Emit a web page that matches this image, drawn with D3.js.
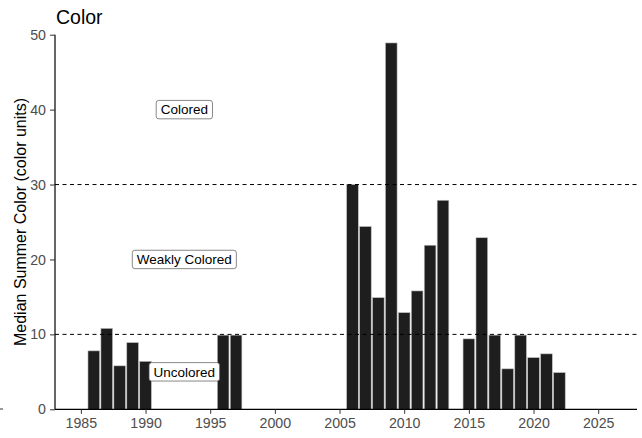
<!DOCTYPE html>
<html><head><meta charset="utf-8">
<script src="https://cdn.jsdelivr.net/npm/d3@7"></script>
<style>body{margin:0;background:#fff}svg{display:block}text{font-family:"Liberation Sans",Arial,sans-serif}</style>
</head><body><svg id="c" width="642" height="438"></svg>
<script>
const years = [1986,1987,1988,1989,1990,1996,1997,2006,2007,2008,2009,2010,2011,2012,2013,2015,2016,2017,2018,2019,2020,2021,2022];
const colorValues = [7.8,10.8,5.8,8.9,6.4,9.9,9.9,30,24.4,14.9,48.9,12.9,15.8,21.9,27.9,9.4,22.9,9.9,5.4,9.9,6.9,7.4,4.9];
const xTicks = [1985,1990,1995,2000,2005,2010,2015,2020,2025];
const yTicks = [0,10,20,30,40,50];
const thresholds = [10,30];
const labelNames = ["Colored","Weakly Colored","Uncolored"];
const labelYears = [1993,1993,1993];
const labelValues = [40,20,5];

const svg = d3.select("#c");
const x = d3.scaleLinear().domain([1983,2028]).range([55,637]);
const y = d3.scaleLinear().domain([0,50]).range([409.3,34.7]);
const bw = (x(1)-x(0))*0.9;

svg.append("g").selectAll("rect").data(years).join("rect")
  .attr("x",(d)=>x(d)-bw/2).attr("width",bw)
  .attr("y",(d,i)=>y(colorValues[i])).attr("height",(d,i)=>y(0)-y(colorValues[i]))
  .attr("fill","#1e1e1e").attr("stroke","#bfbfbf").attr("stroke-width",0.6);

svg.append("g").selectAll("line").data(thresholds).join("line")
  .attr("x1",55).attr("x2",637).attr("y1",d=>y(d)).attr("y2",d=>y(d))
  .attr("stroke","#000").attr("stroke-width",1).attr("stroke-dasharray","4,3.5");

const xa = svg.append("g").attr("transform",`translate(0,${y(0)})`)
  .call(d3.axisBottom(x).tickValues(xTicks).tickFormat(d3.format("d")).tickSize(4.5).tickPadding(4.5));
xa.attr("font-size",null);
xa.select(".domain").attr("d",`M55,0H637`).attr("stroke","#000").attr("stroke-width",1.2);
xa.selectAll(".tick line").attr("stroke","#333");
xa.selectAll("text").attr("fill","#4d4d4d").style("font-size","14.2px");

const ya = svg.append("g").attr("transform",`translate(55,0)`)
  .call(d3.axisLeft(y).tickValues(yTicks).tickSize(5).tickPadding(4));
ya.attr("font-size",null);
ya.select(".domain").attr("d",`M0,${y(50)}V${y(0)}`).attr("stroke","#000").attr("stroke-width",1.2);
ya.selectAll(".tick line").attr("stroke","#333");
ya.selectAll("text").attr("fill","#4d4d4d").style("font-size","14.2px");

// labels
const lg = svg.append("g");
labelNames.forEach((t,i)=>{
  const g = lg.append("g").attr("transform",`translate(${x(labelYears[i])},${y(labelValues[i])})`);
  const tx = g.append("text").attr("text-anchor","middle").attr("dy","0.35em").style("font-size","13.5px").attr("fill","#000").text(t);
  const b = tx.node().getBBox();
  g.insert("rect","text").attr("x",b.x-4.5).attr("y",-9.2).attr("width",b.width+9).attr("height",18.4)
    .attr("rx",2.5).attr("fill","#fff").attr("stroke","#555").attr("stroke-width",0.7);
});

svg.append("text").attr("x",56).attr("y",24).style("font-size","19.5px").attr("fill","#000").text("Color");
svg.append("text").attr("transform",`translate(26,222) rotate(-90)`).attr("text-anchor","middle")
  .style("font-size","16px").attr("fill","#000").text("Median Summer Color (color units)");
svg.append("line").attr("x1",0).attr("x2",3).attr("y1",409).attr("y2",409).attr("stroke","#333");
</script></body></html>
